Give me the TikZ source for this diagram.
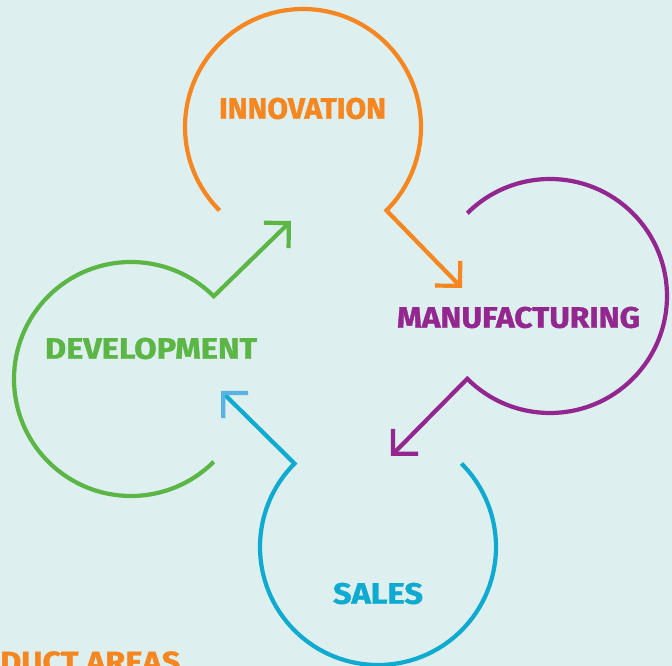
\documentclass[tikz,border=0pt]{standalone}
\usepackage{fontspec}
\setmainfont{Fira Sans}[BoldFeatures={FakeBold=1.2}]
\usetikzlibrary{arrows.meta}
\definecolor{bgcol}{HTML}{DDEFEF}
\definecolor{innocol}{HTML}{F6861F}
\definecolor{manucol}{HTML}{93278F}
\definecolor{devcol}{HTML}{5CB646}
\definecolor{salescol}{HTML}{0FAACF}
\definecolor{salestip}{HTML}{5BB2E2}
\tikzset{
  loopline/.style={line width=4.2pt, line join=miter, line cap=butt},
  tagtext/.style={inner sep=0pt, font=\bfseries},
  bartip/.style={-{Straight Barb[angle=90:25pt]}}
}
\begin{document}
\begin{tikzpicture}[x=1pt,y=1pt]
\useasboundingbox (0,0) rectangle (672,666);
\fill[bgcol] (0,0) rectangle (672,666);

% centres
\coordinate (innoC) at (303,539);
\coordinate (manuC) at (550,370);
\coordinate (salesC) at (378,119);
\coordinate (devC) at (131,287);

% arc ends
\coordinate (innoL) at ([shift={(225:118)}]innoC);
\coordinate (manuT) at ([shift={(135:117)}]manuC);
\coordinate (salesR) at ([shift={(45:118)}]salesC);
\coordinate (devB) at ([shift={(-45:117)}]devC);

% arrow tips
\coordinate (innoTip) at (462,378);
\coordinate (manuTip) at (391,210);
\coordinate (salesTip) at (221,275);
\coordinate (devTip) at (291,445);

% loops with connectors
\draw[loopline, innocol, bartip] (innoL) arc[start angle=225, end angle=-45, radius=118] -- (innoTip);
\draw[loopline, manucol, bartip] (manuT) arc[start angle=135, end angle=-135, radius=117] -- (manuTip);
\draw[loopline, salescol, -{Straight Barb[angle=90:25pt, color=salestip]}] (salesR) arc[start angle=45, end angle=-225, radius=118] -- (salesTip);
\draw[loopline, devcol, bartip] (devB) arc[start angle=-45, end angle=-315, radius=117] -- (devTip);

% labels
\node[tagtext, text=innocol] (innoT) at (302.5,557.5) {\resizebox{167pt}{21pt}{INNOVATION}};
\node[tagtext, text=manucol] (manuT) at (518.5,348.5) {\resizebox{243pt}{21pt}{MANUFACTURING}};
\node[tagtext, text=devcol] (devT) at (151,317.5) {\resizebox{212pt}{21pt}{DEVELOPMENT}};
\node[tagtext, text=salescol] (salesT) at (378,72.5) {\resizebox{90pt}{21pt}{SALES}};

\begin{scope}
\clip (0,0) rectangle (672,666);
\node[tagtext, text=innocol, anchor=south west] (areasT) at (0,-7) {\resizebox{180pt}{21pt}{DUCT AREAS}};
\end{scope}
\end{tikzpicture}
\end{document}
